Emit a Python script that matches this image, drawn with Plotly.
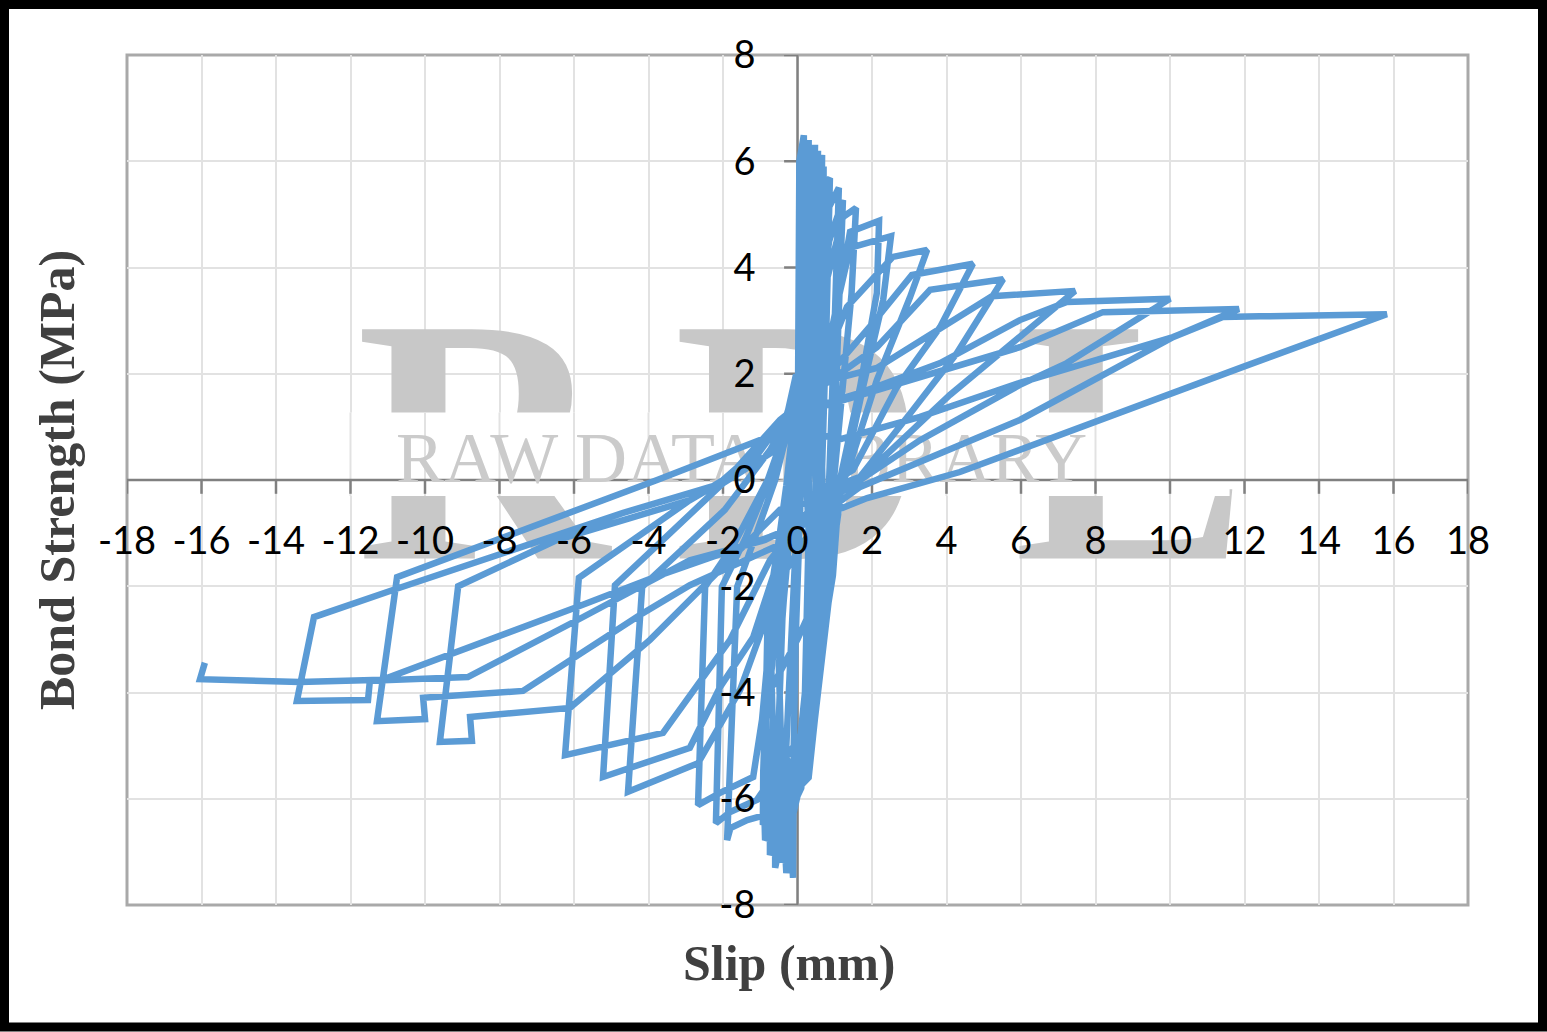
import plotly.graph_objects as go

# Tick positions shared by both axes
x_ticks = [-18, -16, -14, -12, -10, -8, -6, -4, -2, 0, 2, 4, 6, 8, 10, 12, 14, 16, 18]
y_ticks = [-8, -6, -4, -2, 0, 2, 4, 6, 8]

# Cyclic bond-slip record, one list pair per loading cycle
slip_01 = [0.0, 0.02, 0.05, 0.17, 0.2, 0.1, -0.05, -0.1, -0.12, -0.3, -0.05, 0.0, 0.05]
bond_01 = [0.0, 3.0, 6.0, 6.49, 3.0, 0.0, -3.0, -5.0, -7.49, -5.0, -1.5, -0.5, 1.5]
slip_01b = [0.02, 0.08, 0.3, 0.28, 0.18, 0.3, 0.2, -0.3, -0.4, -0.5, -0.15, 0.02]
bond_01b = [1.6, 4.5, 6.4, 4.0, 1.0, -1.0, -4.0, -7.4, -6.0, -3.5, -0.4, 1.4]
slip_02 = [0.1, 0.25, 0.47, 0.4, 0.3, 0.45, 0.1, -0.6, -0.6, -0.7, -0.2, 0.0]
bond_02 = [2.5, 5.0, 6.31, 3.0, 0.0, -1.5, -5.0, -7.3, -6.6, -3.6, -0.5, 1.2]
slip_02b = [0.1, 0.35, 0.55, 0.5, 0.38, 0.55, 0.35, 0.15, -0.42, -0.55, -0.4, -0.1, 0.05]
bond_02b = [1.8, 4.5, 6.2, 4.5, 1.5, -1.0, -3.5, -5.5, -7.2, -5.5, -2.5, -0.2, 1.5]
slip_03 = [0.2, 0.45, 0.66, 0.62, 0.5, 0.75, 0.3, -0.74, -0.74, -0.85, -0.25, 0.0]
bond_03 = [2.0, 4.5, 6.12, 3.0, 0.0, -2.2, -5.0, -7.06, -6.4, -4.5, -0.3, 1.4]
slip_03b = [0.15, 0.3, 0.7, 0.7, 0.58, 0.62, 0.45, 0.1, -0.65, -0.8, -0.95, -0.65, -0.15, 0.02]
bond_03b = [1.7, 3.5, 5.9, 4.5, 2.0, -0.5, -3.5, -5.8, -6.9, -6.0, -4.5, -2.2, 0.0, 1.5]
slip_04 = [0.3, 0.55, 0.6, 0.87, 0.78, 0.65, 0.85, 0.3, -0.87, -0.9, -0.8, -0.3, 0.0]
bond_04 = [2.0, 4.3, 5.5, 5.68, 3.0, 0.0, -2.2, -5.5, -6.78, -6.0, -2.5, -0.2, 1.5]
slip_04b = [0.2, 0.5, 0.75, 0.72, 0.62, 0.7, 0.6, 0.25, -0.85, -0.9, -0.55, -0.1]
bond_04b = [1.6, 3.2, 5.7, 4.0, 1.5, -1.0, -3.5, -5.0, -6.6, -5.0, -1.5, 1.0]
slip_05 = [0.35, 0.75, 1.11, 1.0, 0.85, 0.8, 0.3, -0.93, -0.92, -0.78, -0.3, -0.03]
bond_05 = [2.0, 5.0, 5.5, 3.0, 0.0, -2.3, -5.6, -6.49, -5.5, -2.6, -0.1, 1.6]
slip_05b = [0.4, 0.85, 1.22, 1.1, 0.95, 0.85, 0.2, -0.9, -0.88, -0.8, -0.3, 0.0]
bond_05b = [2.2, 4.5, 5.27, 3.0, 0.0, -2.2, -5.5, -6.3, -5.5, -3.0, -0.1, 1.5]
slip_06 = [0.45, 0.8, 1.22, 1.57, 1.45, 1.1, 0.95, 0.85, 0.4, -0.2, -0.93, -1.35, -1.8, -1.89, -1.62, -1.2, -0.6, -0.1]
bond_06 = [2.2, 3.8, 4.95, 5.12, 3.5, 1.0, -0.2, -2.1, -4.0, -5.5, -6.32, -6.4, -6.55, -6.78, -2.01, -1.2, 0.0, 1.4]
slip_07 = [0.79, 1.14, 1.41, 2.19, 2.13, 1.68, 1.14, 0.95, 0.3, -1.09, -1.81, -2.19, -2.03, -1.4, -0.7, -0.12]
bond_07 = [2.39, 3.58, 4.67, 4.88, 3.52, 1.75, 0.0, -1.8, -4.6, -6.02, -6.25, -6.46, -2.01, -1.1, 0.1, 1.35]
slip_08 = [0.79, 1.09, 1.41, 2.51, 2.3, 1.76, 1.22, 0.9, 0.0, -0.87, -1.19, -2.08, -2.67, -2.48, -1.7, -0.8, -0.15]
bond_08 = [2.07, 3.39, 4.37, 4.59, 3.39, 1.75, 0.0, -1.6, -3.0, -4.14, -5.59, -5.89, -6.12, -2.01, -1.2, 0.0, 1.3]
slip_09 = [0.68, 1.33, 2.56, 3.48, 3.02, 2.13, 1.33, -0.47, -1.54, -2.67, -4.55, -4.17, -1.95, -0.74, -0.2]
bond_09 = [2.13, 3.26, 4.2, 4.33, 3.44, 1.88, 0.13, -1.88, -3.95, -5.33, -5.87, -2.01, -0.56, 0.56, 1.25]
slip_10 = [0.87, 2.03, 3.07, 4.71, 3.83, 2.67, 1.49, 0.6, -0.6, -1.19, -2.08, -2.89, -5.22, -4.9, -3.07, -2.0, -0.47]
bond_10 = [2.01, 2.96, 3.86, 4.07, 2.88, 1.75, 0.19, -0.19, -1.69, -2.96, -3.9, -5.04, -5.59, -1.98, -0.75, -0.06, 1.13]
slip_11 = [0.79, 2.13, 3.56, 5.52, 4.28, 3.1, 1.68, 0.74, -0.74, -1.81, -3.61, -6.24, -5.87, -2.89, -2.0, -0.47]
bond_11 = [1.83, 2.5, 3.58, 3.78, 2.39, 1.32, 0.06, -0.19, -1.51, -3.01, -4.76, -5.18, -1.84, -0.38, 0.0, 0.94]
slip_12 = [0.6, 2.13, 3.56, 5.22, 7.45, 5.79, 4.09, 1.95, 1.09, -0.47, -2.62, -3.96, -6.11, -8.79, -8.74, -9.6, -9.11, -6.46, -2.89, -1.28, -0.2]
bond_12 = [1.83, 2.11, 2.73, 3.46, 3.56, 2.58, 1.6, 0.19, -0.28, -0.56, -2.07, -3.01, -4.29, -4.46, -4.91, -4.93, -2.0, -1.13, -0.38, 0.28, 1.32]
slip_13 = [0.6, 1.68, 3.83, 5.97, 7.23, 10.0, 7.23, 5.97, 3.29, 1.28, 0.93, -0.2, -2.89, -4.23, -7.37, -10.05, -10.0, -11.29, -10.75, -3.77, -0.79, -0.31, -0.04]
bond_13 = [1.41, 1.64, 2.2, 3.01, 3.35, 3.41, 2.2, 1.79, 0.75, -0.19, -0.19, -1.13, -1.98, -2.54, -3.97, -4.1, -4.5, -4.54, -1.83, 0.0, 0.81, 1.13, 1.98]
slip_14 = [0.6, 3.29, 5.97, 8.2, 11.85, 10.08, 5.97, 1.68, 1.01, -0.87, -2.89, -5.92, -8.85, -11.48, -11.53, -13.44, -12.98, -10.86, -4.68, -2.0, -0.6, -0.12, 0.5]
bond_14 = [1.37, 1.94, 2.5, 3.16, 3.22, 2.69, 1.13, -0.13, -0.47, -1.13, -1.51, -2.64, -3.71, -3.78, -4.14, -4.16, -2.58, -2.07, -0.62, -0.06, 0.56, 1.6, 0.9]
slip_15 = [1.06, 3.29, 5.97, 10.08, 11.42, 15.82, 11.96, 8.31, 4.36, 1.87, 1.09, -0.74, -3.69, -5.92, -11.15, -13.36, -16.04, -15.91]
bond_15 = [0.75, 1.19, 1.83, 2.69, 3.07, 3.12, 2.13, 1.19, 0.15, -0.34, -0.56, -1.07, -1.79, -2.39, -3.76, -3.8, -3.75, -3.44]

slip_cycles = [slip_01, slip_01b, slip_02, slip_02b, slip_03, slip_03b, slip_04, slip_04b,
               slip_05, slip_05b, slip_06, slip_07, slip_08,
               slip_09, slip_10, slip_11, slip_12, slip_13, slip_14, slip_15]
bond_cycles = [bond_01, bond_01b, bond_02, bond_02b, bond_03, bond_03b, bond_04, bond_04b,
               bond_05, bond_05b, bond_06, bond_07, bond_08,
               bond_09, bond_10, bond_11, bond_12, bond_13, bond_14, bond_15]
slip = [v for cycle in slip_cycles for v in cycle]
bond = [v for cycle in bond_cycles for v in cycle]

# Library mark behind the curve
mark_letters = ["R", "D", "L"]
mark_slip = [-11.85, -3.33, 5.8]
mark_bond = [0.17, 0.17, 0.17]
band_slip = [-12.1, 11.6, 11.6, -12.1, -12.1]
band_bond = [1.27, 1.27, -0.3, -0.3, 1.27]

WIDTH, HEIGHT = 1547, 1032
LEFT, RIGHT, TOP, BOTTOM = 127, 1468, 55, 905
GRID = "#e2e2e2"
AXIS = "#808080"
BLUE = "#5B9BD5"
MARK = "#c8c8c8"
TICK_X = 0.36    # tick length along x, in axis units
TICK_Y = 0.26    # tick length along y, in axis units


def segments(pairs):
    xs, ys = [], []
    for (x0, y0), (x1, y1) in pairs:
        xs += [x0, x1, None]
        ys += [y0, y1, None]
    return xs, ys


fig = go.Figure()
fig.add_trace(go.Scatter(x=mark_slip, y=mark_bond, mode="text", text=mark_letters,
                         textposition="middle right",
                         textfont=dict(family="Liberation Serif", size=350, color=MARK, weight="bold")))
# White band that splits the big letters
fig.add_trace(go.Scatter(x=band_slip, y=band_bond, mode="lines", fill="toself",
                         fillcolor="white", line=dict(width=0)))
# Grid pieces restored on top of the band
gx, gy = segments([((t, -0.3), (t, 1.27)) for t in x_ticks if -12.1 <= t <= 11.6])
fig.add_trace(go.Scatter(x=gx, y=gy, mode="lines", line=dict(color=GRID, width=2)))
# Axis lines and tick marks crossing at the origin
ax_x, ax_y = segments(
    [((-18, 0), (18, 0)), ((0, -8), (0, 8))]
    + [((t, 0), (t, -TICK_Y)) for t in x_ticks]
    + [((0, t), (-TICK_X, t)) for t in y_ticks]
)
fig.add_trace(go.Scatter(x=ax_x, y=ax_y, mode="lines", line=dict(color=AXIS, width=2.5)))
fig.add_trace(go.Scatter(x=[-1.5], y=[0.31], mode="text", text=["RAW DATA LIBRARY"],
                         textposition="middle center",
                         textfont=dict(family="Liberation Serif", size=72, color="#cbcbcb")))
# Bond-slip curve
fig.add_trace(go.Scatter(x=slip, y=bond, mode="lines",
                         line=dict(color=BLUE, width=6.5, shape="linear")))

tick_font = dict(family="Lato", size=38, color="#000000")
fig.update_layout(
    width=WIDTH, height=HEIGHT, autosize=False,
    margin=dict(l=0, r=0, t=0, b=0, pad=0),
    paper_bgcolor="white", plot_bgcolor="white",
    showlegend=False, hovermode=False,
    xaxis=dict(range=[-18, 18], domain=[LEFT / WIDTH, RIGHT / WIDTH], automargin=False,
               anchor="free", position=1 - 480 / HEIGHT,
               tickmode="array", tickvals=x_ticks, ticktext=[str(t) for t in x_ticks],
               tickfont=tick_font, ticks="", ticklabelstandoff=35,
               showgrid=True, gridcolor=GRID, gridwidth=2,
               zeroline=False, showline=False),
    yaxis=dict(range=[-8, 8], domain=[1 - BOTTOM / HEIGHT, 1 - TOP / HEIGHT], automargin=False,
               anchor="free", position=797.5 / WIDTH,
               tickmode="array", tickvals=y_ticks, ticktext=[str(t) for t in y_ticks],
               tickfont=tick_font, ticks="", ticklabelstandoff=42,
               showgrid=True, gridcolor=GRID, gridwidth=2,
               zeroline=False, showline=False),
    annotations=[
        dict(text="<b>Slip (mm)</b>", xref="paper", yref="paper",
             x=790 / WIDTH, y=1 - 963 / HEIGHT, xanchor="center", yanchor="middle", showarrow=False,
             font=dict(family="Liberation Serif", size=50, color="#404040")),
        dict(text="<b>Bond Strength (MPa)</b>", xref="paper", yref="paper", textangle=-90,
             x=57 / WIDTH, y=1 - 480 / HEIGHT, xanchor="center", yanchor="middle", showarrow=False,
             font=dict(family="Liberation Serif", size=50, color="#404040")),
    ],
    shapes=[
        dict(type="rect", xref="paper", yref="paper", layer="below",
             x0=LEFT / WIDTH, x1=RIGHT / WIDTH, y0=1 - BOTTOM / HEIGHT, y1=1 - TOP / HEIGHT,
             line=dict(color="#a9a9a9", width=3)),
        dict(type="rect", xref="paper", yref="paper", layer="above",
             x0=4.5 / WIDTH, x1=1 - 4.5 / WIDTH, y0=5 / HEIGHT, y1=1 - 4.5 / HEIGHT,
             line=dict(color="#000000", width=9)),
    ],
)
fig.write_html("out.html", config={"displayModeBar": False})
